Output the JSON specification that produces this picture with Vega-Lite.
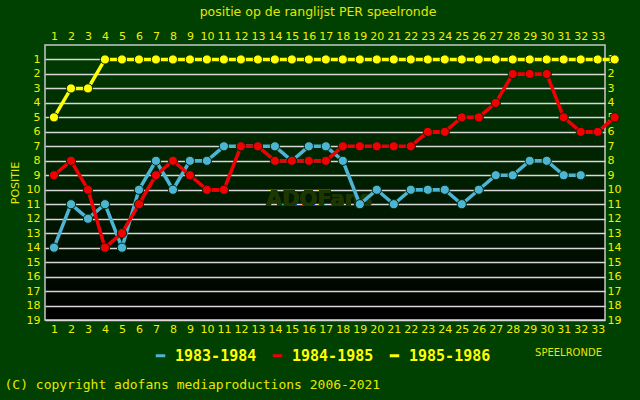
{
  "$schema": "https://vega.github.io/schema/vega-lite/v6.json",
  "width": 560,
  "height": 275,
  "autosize": {"type": "none"},
  "padding": {"left": 45, "top": 45, "right": 35, "bottom": 80},
  "background": "#004000",
  "title": {
    "text": "positie op de ranglijst PER speelronde",
    "font": "DejaVu Sans",
    "fontSize": 12.5,
    "fontWeight": "normal",
    "color": "#e6e600",
    "anchor": "middle",
    "dx": -7,
    "offset": 12
  },
  "config": {
    "view": {
      "fill": {"gradient": "linear", "x1": 0, "y1": 0, "x2": 0, "y2": 1, "stops": [{"offset": 0, "color": "#003c00"}, {"offset": 1, "color": "#000000"}]},
      "stroke": "#c8c8c8",
      "strokeWidth": 1.5
    },
    "axis": {
      "labelFont": "DejaVu Sans",
      "labelFontSize": 11,
      "labelColor": "#f0f000",
      "ticks": false,
      "domain": false
    }
  },
  "data": {
    "values": [
      {"seizoen": "1983-1984", "ronde": 1, "positie": 14},
      {"seizoen": "1983-1984", "ronde": 2, "positie": 11},
      {"seizoen": "1983-1984", "ronde": 3, "positie": 12},
      {"seizoen": "1983-1984", "ronde": 4, "positie": 11},
      {"seizoen": "1983-1984", "ronde": 5, "positie": 14},
      {"seizoen": "1983-1984", "ronde": 6, "positie": 10},
      {"seizoen": "1983-1984", "ronde": 7, "positie": 8},
      {"seizoen": "1983-1984", "ronde": 8, "positie": 10},
      {"seizoen": "1983-1984", "ronde": 9, "positie": 8},
      {"seizoen": "1983-1984", "ronde": 10, "positie": 8},
      {"seizoen": "1983-1984", "ronde": 11, "positie": 7},
      {"seizoen": "1983-1984", "ronde": 12, "positie": 7},
      {"seizoen": "1983-1984", "ronde": 13, "positie": 7},
      {"seizoen": "1983-1984", "ronde": 14, "positie": 7},
      {"seizoen": "1983-1984", "ronde": 15, "positie": 8},
      {"seizoen": "1983-1984", "ronde": 16, "positie": 7},
      {"seizoen": "1983-1984", "ronde": 17, "positie": 7},
      {"seizoen": "1983-1984", "ronde": 18, "positie": 8},
      {"seizoen": "1983-1984", "ronde": 19, "positie": 11},
      {"seizoen": "1983-1984", "ronde": 20, "positie": 10},
      {"seizoen": "1983-1984", "ronde": 21, "positie": 11},
      {"seizoen": "1983-1984", "ronde": 22, "positie": 10},
      {"seizoen": "1983-1984", "ronde": 23, "positie": 10},
      {"seizoen": "1983-1984", "ronde": 24, "positie": 10},
      {"seizoen": "1983-1984", "ronde": 25, "positie": 11},
      {"seizoen": "1983-1984", "ronde": 26, "positie": 10},
      {"seizoen": "1983-1984", "ronde": 27, "positie": 9},
      {"seizoen": "1983-1984", "ronde": 28, "positie": 9},
      {"seizoen": "1983-1984", "ronde": 29, "positie": 8},
      {"seizoen": "1983-1984", "ronde": 30, "positie": 8},
      {"seizoen": "1983-1984", "ronde": 31, "positie": 9},
      {"seizoen": "1983-1984", "ronde": 32, "positie": 9},
      {"seizoen": "1984-1985", "ronde": 1, "positie": 9},
      {"seizoen": "1984-1985", "ronde": 2, "positie": 8},
      {"seizoen": "1984-1985", "ronde": 3, "positie": 10},
      {"seizoen": "1984-1985", "ronde": 4, "positie": 14},
      {"seizoen": "1984-1985", "ronde": 5, "positie": 13},
      {"seizoen": "1984-1985", "ronde": 6, "positie": 11},
      {"seizoen": "1984-1985", "ronde": 7, "positie": 9},
      {"seizoen": "1984-1985", "ronde": 8, "positie": 8},
      {"seizoen": "1984-1985", "ronde": 9, "positie": 9},
      {"seizoen": "1984-1985", "ronde": 10, "positie": 10},
      {"seizoen": "1984-1985", "ronde": 11, "positie": 10},
      {"seizoen": "1984-1985", "ronde": 12, "positie": 7},
      {"seizoen": "1984-1985", "ronde": 13, "positie": 7},
      {"seizoen": "1984-1985", "ronde": 14, "positie": 8},
      {"seizoen": "1984-1985", "ronde": 15, "positie": 8},
      {"seizoen": "1984-1985", "ronde": 16, "positie": 8},
      {"seizoen": "1984-1985", "ronde": 17, "positie": 8},
      {"seizoen": "1984-1985", "ronde": 18, "positie": 7},
      {"seizoen": "1984-1985", "ronde": 19, "positie": 7},
      {"seizoen": "1984-1985", "ronde": 20, "positie": 7},
      {"seizoen": "1984-1985", "ronde": 21, "positie": 7},
      {"seizoen": "1984-1985", "ronde": 22, "positie": 7},
      {"seizoen": "1984-1985", "ronde": 23, "positie": 6},
      {"seizoen": "1984-1985", "ronde": 24, "positie": 6},
      {"seizoen": "1984-1985", "ronde": 25, "positie": 5},
      {"seizoen": "1984-1985", "ronde": 26, "positie": 5},
      {"seizoen": "1984-1985", "ronde": 27, "positie": 4},
      {"seizoen": "1984-1985", "ronde": 28, "positie": 2},
      {"seizoen": "1984-1985", "ronde": 29, "positie": 2},
      {"seizoen": "1984-1985", "ronde": 30, "positie": 2},
      {"seizoen": "1984-1985", "ronde": 31, "positie": 5},
      {"seizoen": "1984-1985", "ronde": 32, "positie": 6},
      {"seizoen": "1984-1985", "ronde": 33, "positie": 6},
      {"seizoen": "1984-1985", "ronde": 34, "positie": 5},
      {"seizoen": "1985-1986", "ronde": 1, "positie": 5},
      {"seizoen": "1985-1986", "ronde": 2, "positie": 3},
      {"seizoen": "1985-1986", "ronde": 3, "positie": 3},
      {"seizoen": "1985-1986", "ronde": 4, "positie": 1},
      {"seizoen": "1985-1986", "ronde": 5, "positie": 1},
      {"seizoen": "1985-1986", "ronde": 6, "positie": 1},
      {"seizoen": "1985-1986", "ronde": 7, "positie": 1},
      {"seizoen": "1985-1986", "ronde": 8, "positie": 1},
      {"seizoen": "1985-1986", "ronde": 9, "positie": 1},
      {"seizoen": "1985-1986", "ronde": 10, "positie": 1},
      {"seizoen": "1985-1986", "ronde": 11, "positie": 1},
      {"seizoen": "1985-1986", "ronde": 12, "positie": 1},
      {"seizoen": "1985-1986", "ronde": 13, "positie": 1},
      {"seizoen": "1985-1986", "ronde": 14, "positie": 1},
      {"seizoen": "1985-1986", "ronde": 15, "positie": 1},
      {"seizoen": "1985-1986", "ronde": 16, "positie": 1},
      {"seizoen": "1985-1986", "ronde": 17, "positie": 1},
      {"seizoen": "1985-1986", "ronde": 18, "positie": 1},
      {"seizoen": "1985-1986", "ronde": 19, "positie": 1},
      {"seizoen": "1985-1986", "ronde": 20, "positie": 1},
      {"seizoen": "1985-1986", "ronde": 21, "positie": 1},
      {"seizoen": "1985-1986", "ronde": 22, "positie": 1},
      {"seizoen": "1985-1986", "ronde": 23, "positie": 1},
      {"seizoen": "1985-1986", "ronde": 24, "positie": 1},
      {"seizoen": "1985-1986", "ronde": 25, "positie": 1},
      {"seizoen": "1985-1986", "ronde": 26, "positie": 1},
      {"seizoen": "1985-1986", "ronde": 27, "positie": 1},
      {"seizoen": "1985-1986", "ronde": 28, "positie": 1},
      {"seizoen": "1985-1986", "ronde": 29, "positie": 1},
      {"seizoen": "1985-1986", "ronde": 30, "positie": 1},
      {"seizoen": "1985-1986", "ronde": 31, "positie": 1},
      {"seizoen": "1985-1986", "ronde": 32, "positie": 1},
      {"seizoen": "1985-1986", "ronde": 33, "positie": 1},
      {"seizoen": "1985-1986", "ronde": 34, "positie": 1}
    ]
  },
  "resolve": {"axis": {"x": "independent", "y": "independent"}},
  "layer": [
    {
      "mark": {"type": "text", "text": "ADOFans", "font": "DejaVu Sans", "fontWeight": "bold", "fontSize": 21, "fill": "#1e3600", "fillOpacity": 1},
      "encoding": {
        "x": {"datum": 16.6, "type": "quantitative", "axis": null},
        "y": {"datum": 10.7, "type": "quantitative", "axis": null}
      }
    },
    {
      "mark": {"type": "line", "strokeWidth": 3.5, "clip": false},
      "encoding": {
        "x": {
          "field": "ronde", "type": "quantitative",
          "scale": {"domain": [0.47, 33.43], "nice": false, "zero": false},
          "axis": {
            "orient": "bottom",
            "values": [1,2,3,4,5,6,7,8,9,10,11,12,13,14,15,16,17,18,19,20,21,22,23,24,25,26,27,28,29,30,31,32,33],
            "labelPadding": 3, "grid": false, "labelFlush": false, "labelOverlap": false,
            "title": "(C) copyright adofans mediaproductions 2006-2021",
            "titleX": -41, "titleY": 64, "titleAlign": "left", "titleBaseline": "middle",
            "titleFont": "DejaVu Sans Mono", "titleFontSize": 13, "titleFontWeight": "normal", "titleColor": "#e8e800"
          }
        },
        "y": {
          "field": "positie", "type": "quantitative",
          "scale": {"domain": [0, 19], "reverse": true, "nice": false, "zero": false},
          "axis": {
            "orient": "left",
            "values": [1,2,3,4,5,6,7,8,9,10,11,12,13,14,15,16,17,18,19],
            "labelPadding": 5, "grid": true, "gridColor": "#d8d8d8", "gridWidth": 1.5, "labelFlush": false, "labelOverlap": false,
            "title": "POSITIE", "titleX": -27, "titleY": 137.5, "titleAngle": -90, "titleAlign": "center", "titleBaseline": "alphabetic",
            "titleFont": "DejaVu Sans", "titleFontSize": 11, "titleFontWeight": "normal", "titleColor": "#e8e800"
          }
        },
        "color": {
          "field": "seizoen", "type": "nominal",
          "scale": {"domain": ["1983-1984", "1984-1985", "1985-1986"], "range": ["#4db4d4", "#f00000", "#ffff00"]},
          "legend": {
            "orient": "none", "legendX": 108, "legendY": 303, "direction": "horizontal", "columns": 3,
            "title": null, "symbolType": "stroke", "symbolStrokeWidth": 3, "symbolSize": 90,
            "labelFont": "DejaVu Sans Mono", "labelFontWeight": "bold", "labelFontSize": 15, "labelColor": "#ffff00",
            "labelOffset": 7, "columnPadding": 9
          }
        }
      }
    },
    {
      "mark": {"type": "point", "filled": true, "size": 85, "opacity": 1, "stroke": "#002400", "strokeWidth": 1, "clip": false},
      "encoding": {
        "x": {
          "field": "ronde", "type": "quantitative",
          "axis": {
            "orient": "top",
            "values": [1,2,3,4,5,6,7,8,9,10,11,12,13,14,15,16,17,18,19,20,21,22,23,24,25,26,27,28,29,30,31,32,33],
            "labelPadding": 4, "grid": false, "labelFlush": false, "labelOverlap": false,
            "title": "SPEELRONDE", "titleX": 523, "titleY": 307, "titleAlign": "center", "titleBaseline": "middle",
            "titleFont": "DejaVu Sans", "titleFontSize": 10, "titleFontWeight": "normal", "titleColor": "#e8e800"
          }
        },
        "y": {
          "field": "positie", "type": "quantitative",
          "axis": {
            "orient": "right",
            "values": [1,2,3,4,5,6,7,8,9,10,11,12,13,14,15,16,17,18,19],
            "labelPadding": 2, "grid": false, "labelFlush": false, "labelOverlap": false, "title": null
          }
        },
        "color": {"field": "seizoen", "type": "nominal"}
      }
    }
  ]
}
